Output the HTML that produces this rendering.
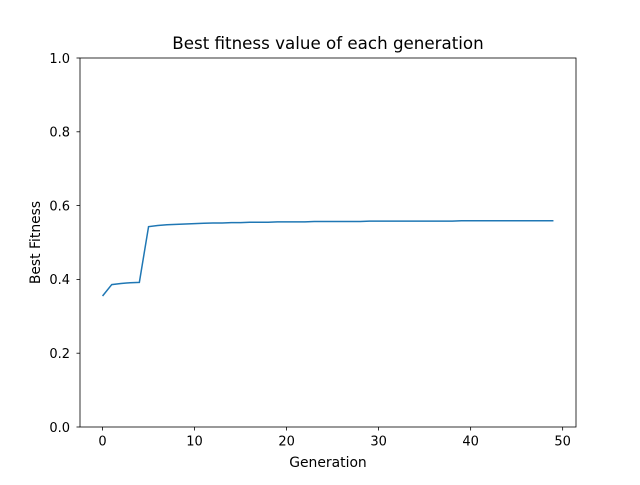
<!DOCTYPE html>
<html><head><meta charset="utf-8"><style>
body{margin:0;background:#fff;}
svg text{font-family:"DejaVu Sans","Liberation Sans",sans-serif;fill:#000;}
</style></head><body>
<svg id="chart" width="640" height="480" viewBox="0 0 640 480">
<rect width="640" height="480" fill="#fff"/>
<text x="328" y="49" font-size="16.7" text-anchor="middle">Best fitness value of each generation</text>
<g id="xt"></g>
<g id="yt"></g>
<path id="line" fill="none" stroke="#1f77b4" stroke-width="1.5"/>
<rect x="80" y="58" width="496" height="369" fill="none" stroke="#000" stroke-width="0.8"/>
<text x="328" y="467" font-size="13.9" text-anchor="middle">Generation</text>
<text transform="translate(40,242.5) rotate(-90)" font-size="13.9" text-anchor="middle">Best Fitness</text>
</svg>
<script>
const fitness=[0.355,0.386,0.389,0.391,0.392,0.543,0.546,0.548,0.549,0.550,0.551,0.552,0.553,0.553,0.554,0.554,0.555,0.555,0.555,0.556,0.556,0.556,0.556,0.557,0.557,0.557,0.557,0.557,0.557,0.558,0.558,0.558,0.558,0.558,0.558,0.558,0.558,0.558,0.558,0.559,0.559,0.559,0.559,0.559,0.559,0.559,0.559,0.559,0.559,0.559];
const xTicks=[0,10,20,30,40,50];
const yTicks=[0.0,0.2,0.4,0.6,0.8,1.0];
const NS="http://www.w3.org/2000/svg";
const x=v=>80+(v+2.45)/53.9*496;
const y=v=>427-v*369;
function mk(t,a,p){const e=document.createElementNS(NS,t);for(const k in a)e.setAttribute(k,a[k]);p.appendChild(e);return e;}
const xt=document.getElementById('xt'),yt=document.getElementById('yt');
xTicks.forEach(v=>{
 const l=mk('line',{x1:x(v),x2:x(v),y1:427,y2:430.5,stroke:'#000','stroke-width':0.8},xt);
 
 
 const t=mk('text',{x:x(v),y:445.5,'font-size':13,'text-anchor':'middle'},xt);t.textContent=v;
 
 
});
yTicks.forEach(v=>{
 const l=mk('line',{x1:76.5,x2:80,y1:y(v),y2:y(v),stroke:'#000','stroke-width':0.8},yt);
 
 
 const t=mk('text',{x:70,y:y(v)+4.8,'font-size':13,'text-anchor':'end'},yt);t.textContent=v.toFixed(1);
 
 
});
document.getElementById('line').setAttribute('d',fitness.map((v,i)=>(i?'L':'M')+x(i).toFixed(2)+','+y(v).toFixed(2)).join(''));
</script>
</body></html>
